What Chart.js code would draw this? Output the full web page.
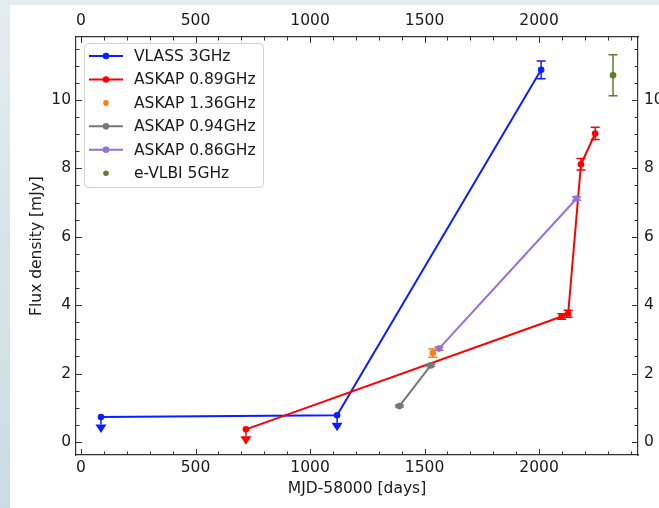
<!DOCTYPE html>
<html>
<head>
<meta charset="utf-8">
<script src="https://cdn.jsdelivr.net/npm/chart.js@4.4.1/dist/chart.umd.min.js"></script>
<style>
  html, body { margin: 0; padding: 0; }
  #wrap {
    width: 659px; height: 508px; position: relative;
    background:
      linear-gradient(to bottom, #e2edf0, #c9dce2) 0 0 / 10px 100% no-repeat,
      linear-gradient(#e4eef1, #e4eef1) 0 0 / 100% 5px no-repeat,
      #ffffff;
  }
</style>
</head>
<body>
<div id="wrap"><canvas id="fluxChart" width="659" height="508"></canvas></div>
<script>
// series (MJD-58000 in days, flux density in mJy)
const vlassDays = [87, 1118, 2009];
const vlassFlux = [0.73, 0.78, 10.88];
const vlassErr = [0.22, 0.22, 0.26];
const vlassUpper = [true, true, false];

const askap089Days = [720, 2099, 2127, 2183, 2245];
const askap089Flux = [0.37, 3.67, 3.75, 8.12, 9.02];
const askap089Err = [0.2, 0.08, 0.1, 0.17, 0.18];
const askap089Upper = [true, false, false, false, false];

const askap136Days = [1536];
const askap136Flux = [2.6];
const askap136Err = [0.12];

const askap094Days = [1390, 1527];
const askap094Flux = [1.05, 2.24];
const askap094Err = [0.03, 0.03];

const askap086Days = [1563, 2164];
const askap086Flux = [2.73, 7.12];
const askap086Err = [0.05, 0.05];

const vlbiDays = [2323];
const vlbiFlux = [10.72];
const vlbiErr = [0.6];

const xTicks = [0, 500, 1000, 1500, 2000];
const yTicks = [0, 2, 4, 6, 8, 10];

const FONT = 'DejaVu Sans';

function pts(xs, ys) {
    return xs.map((v, i) => ({ x: v, y: ys[i] }));
}

function series(label, color, xs, ys, errs, upper, line, idx) {
    return {
        label: label,
        data: pts(xs, ys),
        errs: errs,
        upper: upper || xs.map(() => false),
        showLine: line,
        borderColor: color,
        backgroundColor: color,
        borderWidth: 2,
        pointRadius: 3.3,
        pointHoverRadius: 3.3,
        pointBorderWidth: 0,
        order: 6 - idx
    };
}

const datasets = [
    series('VLASS 3GHz', '#0a1fff', vlassDays, vlassFlux, vlassErr, vlassUpper, true, 0),
    series('ASKAP 0.89GHz', '#ff0000', askap089Days, askap089Flux, askap089Err, askap089Upper, true, 1),
    series('ASKAP 1.36GHz', '#ff7f0e', askap136Days, askap136Flux, askap136Err, null, false, 2),
    series('ASKAP 0.94GHz', '#777777', askap094Days, askap094Flux, askap094Err, null, true, 3),
    series('ASKAP 0.86GHz', '#9370db', askap086Days, askap086Flux, askap086Err, null, true, 4),
    series('e-VLBI 5GHz', '#5f7f2a', vlbiDays, vlbiFlux, vlbiErr, null, false, 5)
];

// error bars and upper-limit arrows
const errorBars = {
    id: 'errorBars',
    afterDatasetsDraw(chart) {
        const { ctx, scales: { x, y } } = chart;
        ctx.save();
        chart.data.datasets.forEach(ds => {
            ctx.strokeStyle = ds.borderColor;
            ctx.fillStyle = ds.borderColor;
            ctx.lineWidth = 1.5;
            ds.data.forEach((p, i) => {
                const px = x.getPixelForValue(p.x);
                const py = y.getPixelForValue(p.y);
                if (ds.upper[i]) {
                    const base = y.getPixelForValue(p.y - ds.errs[i]);
                    ctx.beginPath();
                    ctx.moveTo(px, py);
                    ctx.lineTo(px, base);
                    ctx.stroke();
                    ctx.beginPath();
                    ctx.moveTo(px - 5.5, base);
                    ctx.lineTo(px + 5.5, base);
                    ctx.lineTo(px, base + 8.5);
                    ctx.closePath();
                    ctx.fill();
                } else {
                    const top = y.getPixelForValue(p.y + ds.errs[i]);
                    const bot = y.getPixelForValue(p.y - ds.errs[i]);
                    ctx.beginPath();
                    ctx.moveTo(px, top); ctx.lineTo(px, bot);
                    ctx.moveTo(px - 4.5, top); ctx.lineTo(px + 4.5, top);
                    ctx.moveTo(px - 4.5, bot); ctx.lineTo(px + 4.5, bot);
                    ctx.stroke();
                }
            });
        });
        ctx.restore();
    }
};

// inward ticks on all four sides, matplotlib style
const inTicks = {
    id: 'inTicks',
    afterDraw(chart) {
        const { ctx, chartArea: a, scales: { x, y } } = chart;
        ctx.save();
        ctx.strokeStyle = '#333';
        ctx.lineWidth = 1;
        function seg(x1, y1, x2, y2) {
            ctx.beginPath(); ctx.moveTo(x1, y1); ctx.lineTo(x2, y2); ctx.stroke();
        }
        for (let v = 0; v <= x.max; v += 100) {
            const len = v % 500 === 0 ? 6 : 3.5;
            const px = Math.round(x.getPixelForValue(v)) + 0.5;
            seg(px, a.bottom, px, a.bottom - len);
            seg(px, a.top, px, a.top + len);
        }
        for (let k = 0; k * 0.5 <= y.max; k++) {
            const len = k % 4 === 0 ? 6 : 3.5;
            const py = Math.round(y.getPixelForValue(k * 0.5)) + 0.5;
            seg(a.left, py, a.left + len, py);
            seg(a.right, py, a.right - len, py);
        }
        ctx.restore();
    }
};

// legend box in the upper left corner
const boxLegend = {
    id: 'boxLegend',
    afterDraw(chart) {
        const ctx = chart.ctx;
        const bx = 84, by = 43, bw = 179, bh = 144, r = 4;
        ctx.save();
        ctx.fillStyle = 'rgba(255,255,255,0.85)';
        ctx.strokeStyle = '#d2d2d2';
        ctx.lineWidth = 1;
        ctx.beginPath();
        ctx.roundRect(bx + 0.5, by + 0.5, bw, bh, r);
        ctx.fill();
        ctx.stroke();
        ctx.font = '15.5px "' + FONT + '"';
        ctx.textBaseline = 'middle';
        chart.data.datasets.forEach((ds, i) => {
            const ry = 56 + i * 23.45;
            ctx.strokeStyle = ds.borderColor;
            ctx.fillStyle = ds.borderColor;
            if (ds.showLine) {
                ctx.lineWidth = 2;
                ctx.beginPath(); ctx.moveTo(89, ry); ctx.lineTo(123, ry); ctx.stroke();
            }
            ctx.beginPath();
            ctx.arc(106, ry, ds.showLine ? 3.3 : 2.8, 0, Math.PI * 2);
            ctx.fill();
            ctx.fillStyle = '#1a1a1a';
            ctx.fillText(ds.label, 134, ry + 1);
        });
        ctx.restore();
    }
};

const tickFont = { family: FONT, size: 15.5 };
const axisBorder = { display: true, color: '#333', width: 1.2 };

function xAxis(pos, pad, size, title) {
    return {
        type: 'linear', position: pos, min: -22, max: 2432,
        grid: { display: false, drawTicks: false },
        border: axisBorder,
        afterBuildTicks: s => { s.ticks = xTicks.map(v => ({ value: v })); },
        afterFit: s => { s.height = size; },
        ticks: { font: tickFont, color: '#1a1a1a', padding: pad, maxRotation: 0, callback: v => String(v) },
        title: title
    };
}

function yAxis(pos, pad, size, title) {
    return {
        type: 'linear', position: pos, min: -0.38, max: 11.84,
        grid: { display: false, drawTicks: false },
        border: axisBorder,
        afterBuildTicks: s => { s.ticks = yTicks.map(v => ({ value: v })); },
        afterFit: s => { s.width = size; },
        ticks: { font: tickFont, color: '#1a1a1a', padding: pad, callback: v => String(v) },
        title: title
    };
}

const fluxChart = new Chart(document.getElementById('fluxChart').getContext('2d'), {
    type: 'scatter',
    data: { datasets: datasets },
    options: {
        responsive: false,
        animation: false,
        devicePixelRatio: 1,
        layout: { padding: 0 },
        plugins: { legend: { display: false }, tooltip: { enabled: false } },
        scales: {
            x: xAxis('bottom', 4, 53, {
                display: true, text: 'MJD-58000 [days]', color: '#1a1a1a',
                font: tickFont, padding: { top: 0, bottom: 10 }
            }),
            x2: xAxis('top', 7, 37, { display: false }),
            y: yAxis('left', 5, 76, {
                display: true, text: 'Flux density [mJy]', color: '#1a1a1a',
                font: tickFont, padding: { top: 28, bottom: 0 }
            }),
            y2: yAxis('right', 6, 21, { display: false })
        }
    },
    plugins: [errorBars, inTicks, boxLegend]
});
</script>
</body>
</html>
